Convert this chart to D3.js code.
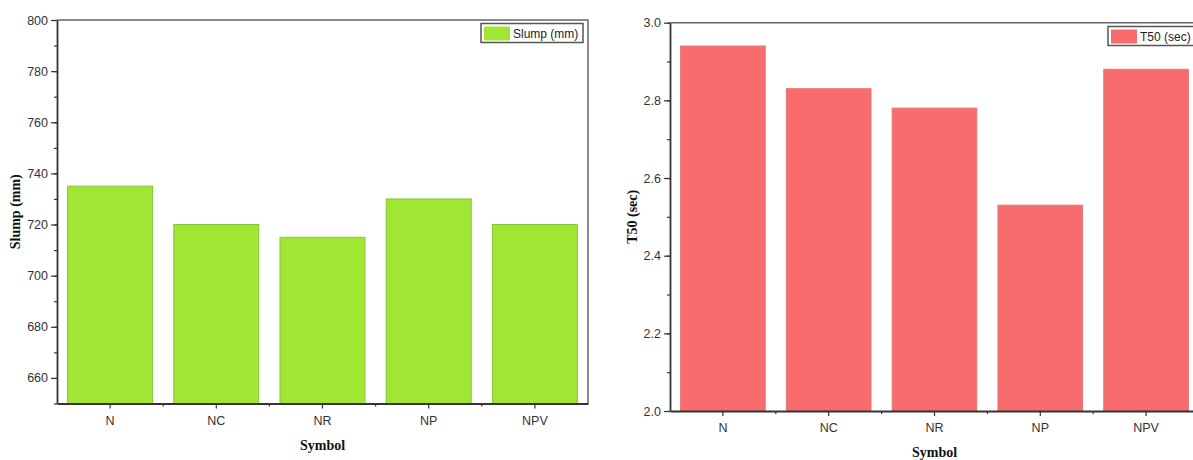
<!DOCTYPE html>
<html>
<head>
<meta charset="utf-8">
<script src="https://cdn.jsdelivr.net/npm/d3@7"></script>
<style>
  body { margin: 0; background: #fff; }
  svg { display: block; }
  .tick text { font-family: "Liberation Sans", Arial, sans-serif; font-size: 12.5px; fill: #333; }
  .axis-title { font-family: "Liberation Serif", "Times New Roman", serif; font-weight: bold; font-size: 14px; fill: #111; }
  .legend-text { font-family: "Liberation Sans", Arial, sans-serif; font-size: 12px; fill: #222; }
</style>
</head>
<body>
<script>
// ---- data ----
var symbols = ['N', 'NC', 'NR', 'NP', 'NPV'];
var slump = [735, 720, 715, 730, 720];
var t50 = [2.94, 2.83, 2.78, 2.53, 2.88];
var slumpTicks = [660, 680, 700, 720, 740, 760, 780, 800];
var t50Ticks = [2.0, 2.2, 2.4, 2.6, 2.8, 3.0];

var svg = d3.select('body').append('svg').attr('width', 1193).attr('height', 460);

// draws one bar panel
function panel(opt) {
    var g = svg.append('g');
    var x = d3.scaleBand().domain(symbols).range([opt.x0, opt.x1]).paddingInner(0.2).paddingOuter(0.1);
    var y = d3.scaleLinear().domain(opt.domain).range([opt.y1, opt.y0]);

    // frame top + right
    g.append('path')
        .attr('d', `M${opt.x0},${opt.y0}H${opt.x1}V${opt.y1}`)
        .attr('fill', 'none').attr('stroke', '#666').attr('stroke-width', 1.5);

    // bars
    g.selectAll('.bar').data(opt.values).enter()
        .append('rect').attr('class', 'bar')
        .attr('x', (d, i) => x(symbols[i]))
        .attr('y', d => y(d))
        .attr('width', x.bandwidth())
        .attr('height', d => y(opt.domain[0]) - y(d))
        .attr('fill', opt.fill).attr('stroke', opt.stroke).attr('stroke-width', 1);

    // y minor ticks
    var minor = d3.range(opt.domain[0], opt.domain[1] + opt.minorStep / 2, opt.minorStep);
    g.append('g').attr('transform', `translate(${opt.x0},0)`)
        .call(d3.axisLeft(y).tickValues(minor).tickSize(3).tickFormat(''))
        .call(a => a.select('.domain').remove())
        .selectAll('line').attr('stroke', '#333').attr('stroke-width', 1.2);

    // y axis
    var ya = g.append('g').attr('transform', `translate(${opt.x0},0)`)
        .call(d3.axisLeft(y).tickValues(opt.ticks).tickSize(6).tickPadding(3).tickFormat(opt.fmt).tickSizeOuter(0));
    ya.select('.domain').attr('stroke', '#333').attr('stroke-width', 1.8);
    ya.selectAll('.tick line').attr('stroke', '#333').attr('stroke-width', 1.2);

    // x minor ticks at band edges
    var step = x.step();
    var edges = d3.range(1, symbols.length).map(i => opt.x0 + i * step);
    g.selectAll('.xminor').data(edges).enter().append('line')
        .attr('x1', d => d).attr('x2', d => d)
        .attr('y1', opt.y1).attr('y2', opt.y1 + 3)
        .attr('stroke', '#333').attr('stroke-width', 1.2);

    // x axis
    var xa = g.append('g').attr('transform', `translate(0,${opt.y1})`)
        .call(d3.axisBottom(x).tickSize(5).tickPadding(5).tickSizeOuter(0));
    xa.select('.domain').attr('stroke', '#333').attr('stroke-width', 1.8);
    xa.selectAll('.tick line').attr('stroke', '#333').attr('stroke-width', 1.2);
    xa.selectAll('.tick text').attr('dy', '0.9em');

    // titles
    g.append('text').attr('class', 'axis-title')
        .attr('transform', `translate(${opt.ylabX},${(opt.y0 + opt.y1) / 2}) rotate(-90)`)
        .attr('text-anchor', 'middle').text(opt.ylabel);
    g.append('text').attr('class', 'axis-title')
        .attr('x', (opt.x0 + opt.x1) / 2).attr('y', opt.xlabY)
        .attr('text-anchor', 'middle').text('Symbol');

    // legend
    var lg = g.append('g').attr('transform', `translate(${opt.legX},${opt.legY})`);
    lg.append('rect').attr('width', opt.legW).attr('height', 19)
        .attr('fill', '#fff').attr('stroke', '#555').attr('stroke-width', 1.5);
    lg.append('rect').attr('x', 3).attr('y', 3).attr('width', 26).attr('height', 14)
        .attr('fill', opt.fill);
    lg.append('text').attr('class', 'legend-text').attr('x', 32).attr('y', 14.5).text(opt.ylabel);
}

panel({
    x0: 57, x1: 588, y0: 20, y1: 403.5,
    domain: [650, 800], ticks: slumpTicks, minorStep: 10, fmt: d3.format('d'),
    values: slump, fill: '#A2E634', stroke: '#86C43A',
    ylabel: 'Slump (mm)', ylabX: 20, xlabY: 450,
    legX: 481, legY: 23.5, legW: 102
});

panel({
    x0: 670, x1: 1199, y0: 22.7, y1: 411,
    domain: [2.0, 3.0], ticks: t50Ticks, minorStep: 0.1, fmt: d3.format('.1f'),
    values: t50, fill: '#F86C6D', stroke: '#E0797A',
    ylabel: 'T50 (sec)', ylabX: 637, xlabY: 457,
    legX: 1108, legY: 26.5, legW: 95
});
</script>
</body>
</html>
